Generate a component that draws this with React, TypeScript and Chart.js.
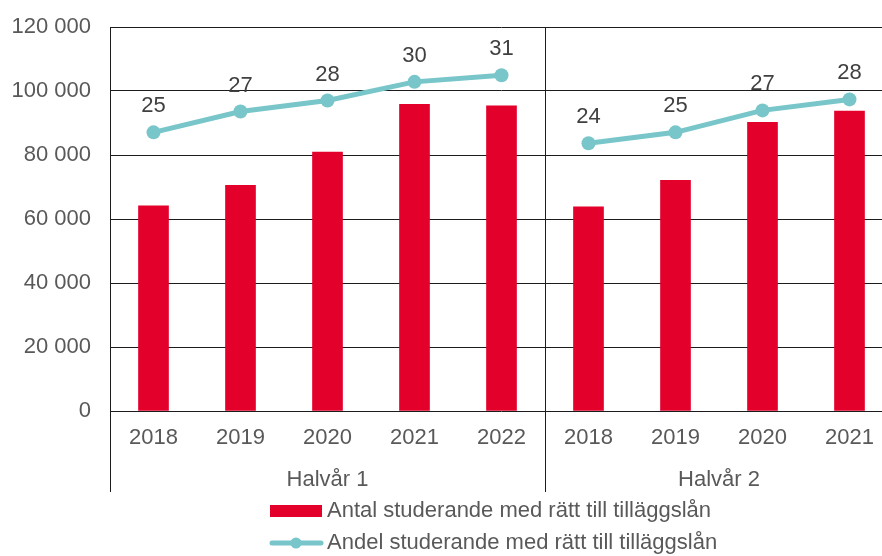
import React, { useEffect, useRef } from "react";
import { Chart, registerables } from "chart.js";

Chart.register(...registerables);

const categories = ["2018", "2019", "2020", "2021", "2022", "2018", "2019", "2020", "2021"];
const groups = [
  { label: "Halvår 1", from: 0, to: 4 },
  { label: "Halvår 2", from: 5, to: 8 },
];
const antal = [64100, 70500, 80900, 95800, 95400, 63800, 72100, 90200, 93700];
const andel = [25.4, 27.3, 28.3, 30.0, 30.6, 24.4, 25.4, 27.4, 28.4];
const andelLabels = ["25", "27", "28", "30", "31", "24", "25", "27", "28"];
const yTicks = [0, 20000, 40000, 60000, 80000, 100000, 120000];
const barName = "Antal studerande med rätt till tilläggslån";
const lineName = "Andel studerande med rätt till tilläggslån";

const RED = "#E3002B";
const TEAL = "#78C6C9";
const LINE = "#1c1c1c";
const FONT = "'Liberation Sans', Arial, sans-serif";

function fmt(v: number) {
  return String(v).replace(/\B(?=(\d{3})+(?!\d))/g, " ");
}

const overlay = {
  id: "overlay",
  afterDatasetsDraw(chart: any) {
    const ctx = chart.ctx;
    const area = chart.chartArea;
    const x = chart.scales.x;
    const bottomY = 492;
    ctx.save();
    ctx.strokeStyle = LINE;
    ctx.lineWidth = 1;
    const sepX = (x.getPixelForValue(4) + x.getPixelForValue(5)) / 2;
    [area.left, sepX].forEach((px: number) => {
      const xx = Math.round(px) + 0.5;
      ctx.beginPath();
      ctx.moveTo(xx, area.top);
      ctx.lineTo(xx, bottomY);
      ctx.stroke();
    });
    const meta = chart.getDatasetMeta(1);
    ctx.fillStyle = "#404040";
    ctx.font = "22px " + FONT;
    ctx.textAlign = "center";
    ctx.textBaseline = "middle";
    meta.data.forEach((pt: any, i: number) => {
      ctx.fillText(andelLabels[i], pt.x, pt.y - 26);
    });
    ctx.fillStyle = "#595959";
    groups.forEach((g) => {
      const cx = (x.getPixelForValue(g.from) + x.getPixelForValue(g.to)) / 2;
      ctx.fillText(g.label, cx, 480);
    });
    ctx.textAlign = "left";
    ctx.font = "22px " + FONT;
    ctx.fillStyle = RED;
    ctx.fillRect(270, 505, 52, 12);
    ctx.fillStyle = "#595959";
    ctx.fillText(barName, 327, 511);
    ctx.strokeStyle = TEAL;
    ctx.lineWidth = 5;
    ctx.lineCap = "round";
    ctx.beginPath();
    ctx.moveTo(272, 543);
    ctx.lineTo(321, 543);
    ctx.stroke();
    ctx.fillStyle = TEAL;
    ctx.beginPath();
    ctx.arc(296, 543, 5.5, 0, Math.PI * 2);
    ctx.fill();
    ctx.fillStyle = "#595959";
    ctx.fillText(lineName, 327, 543);
    ctx.restore();
  },
};

export default function App() {
  const ref = useRef<HTMLCanvasElement | null>(null);
  useEffect(() => {
    if (!ref.current) return;
    Chart.defaults.font.family = FONT;
    const breakAt = groups[0].to;
    const chart = new Chart(ref.current, {
      type: "bar",
      data: {
        labels: categories,
        datasets: [
          {
            type: "bar",
            label: barName,
            data: antal,
            backgroundColor: RED,
            barThickness: 30,
            yAxisID: "y",
            order: 2,
          } as any,
          {
            type: "line",
            label: lineName,
            data: andel,
            borderColor: TEAL,
            backgroundColor: TEAL,
            borderWidth: 5,
            pointRadius: 7,
            pointHoverRadius: 7,
            pointBackgroundColor: TEAL,
            pointBorderWidth: 0,
            yAxisID: "y2",
            order: 1,
            segment: {
              borderColor: (c: any) => (c.p0DataIndex === breakAt ? "rgba(0,0,0,0)" : TEAL),
            },
          } as any,
        ],
      },
      options: {
        responsive: false,
        animation: false,
        devicePixelRatio: 1,
        layout: { padding: { top: 27, right: 5, left: 0, bottom: 0 } },
        plugins: { legend: { display: false }, tooltip: { enabled: false } },
        scales: {
          x: {
            grid: { display: false, drawTicks: false },
            border: { display: false },
            ticks: { color: "#595959", font: { size: 22 }, padding: 14, maxRotation: 0, autoSkip: false },
            afterFit: (s: any) => {
              s.height = 145;
              s.paddingLeft = 0;
              s.paddingRight = 0;
            },
          },
          y: {
            min: 0,
            max: 120000,
            afterBuildTicks: (s: any) => {
              s.ticks = yTicks.map((v) => ({ value: v }));
            },
            grid: { color: LINE, drawTicks: false, lineWidth: 1 },
            border: { display: false },
            ticks: {
              color: "#595959",
              font: { size: 22 },
              padding: 19,
              callback: (v: any) => fmt(Number(v)),
            },
            afterFit: (s: any) => {
              s.width = 110;
              s.paddingTop = 0;
              s.paddingBottom = 0;
            },
          },
          y2: {
            display: false,
            min: 0,
            max: 35,
          },
        },
      },
      plugins: [overlay],
    });
    return () => chart.destroy();
  }, []);
  return (
    <div
      style={{
        position: "fixed",
        left: 0,
        top: 0,
        width: 882,
        height: 556,
        overflow: "hidden",
        background: "#fff",
      }}
    >
      <canvas ref={ref} width={900} height={556} style={{ width: 900, height: 556, display: "block" }} />
    </div>
  );
}
